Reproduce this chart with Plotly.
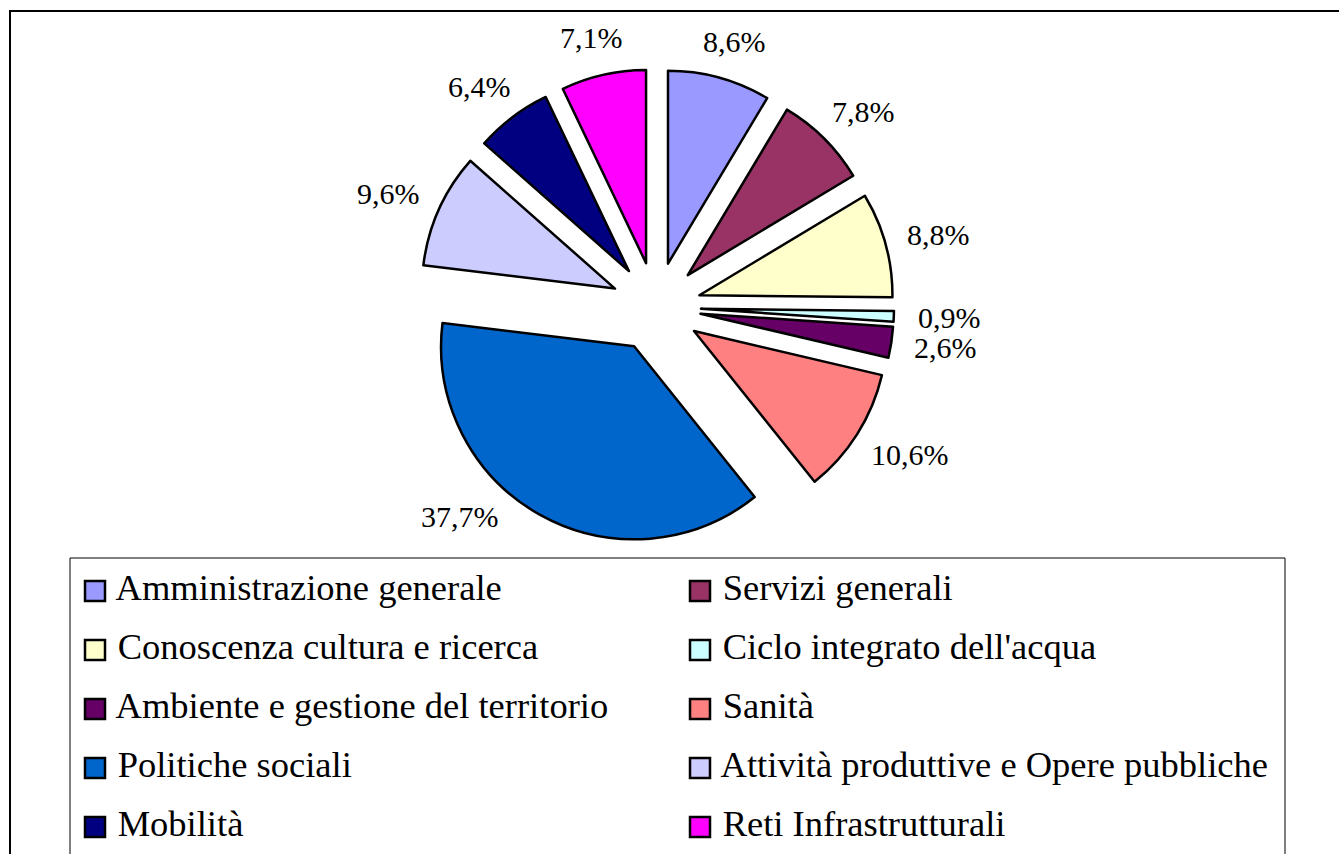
import math
import plotly.graph_objects as go

categories = [
    "Amministrazione generale",
    "Servizi generali",
    "Conoscenza cultura e ricerca",
    "Ciclo integrato dell'acqua",
    "Ambiente e gestione del territorio",
    "Sanità",
    "Politiche sociali",
    "Attività produttive e Opere pubbliche",
    "Mobilità",
    "Reti Infrastrutturali",
]
values = [8.6, 7.8, 8.8, 0.9, 2.6, 10.6, 37.7, 9.6, 6.4, 7.1]
colors = ["#9999FF", "#993366", "#FFFFCC", "#CCFFFF", "#660066",
          "#FF8080", "#0066CC", "#CCCCFF", "#000080", "#FF00FF"]

W, H = 1339, 854
FONT = "Liberation Serif, Times New Roman, serif"
LABEL_SIZE = 30
PULL = 0.233

labels_txt = [f"{v:.1f}".replace(".", ",") + "%" for v in values]

# pie box (pixels) -> paper domain
box_x = (418, 894)
box_y = (69, 545)

fig = go.Figure()

fig.add_trace(go.Pie(
    labels=categories,
    values=values,
    textinfo="none",
    marker=dict(colors=colors, line=dict(color="black", width=2.5)),
    sort=False,
    direction="clockwise",
    rotation=0,
    pull=PULL,
    showlegend=False,
    hoverinfo="label+percent",
    domain=dict(x=[box_x[0] / W, box_x[1] / W], y=[1 - box_y[1] / H, 1 - box_y[0] / H]),
))

# percentage labels placed outside each slice, at its mid angle
cx = (box_x[0] + box_x[1]) / 2
cy = (box_y[0] + box_y[1]) / 2
r = (box_x[1] - box_x[0]) / (2 * (1 + PULL))
D = r * (1 + PULL) + 24
bottom_limit = 531
total = sum(values)
char_w = {",": 0.25, "%": 0.833}
cum = 0.0
annotations = []
for v, t in zip(values, labels_txt):
    theta = math.radians(360 * (cum + v / 2) / total)
    cum += v
    w = sum(char_w.get(ch, 0.5) for ch in t) * LABEL_SIZE
    h = 0.93 * LABEL_SIZE

    def place(th):
        s, c = math.sin(th), math.cos(th)
        return cx + D * s + w / 2 * s, cy - D * c - h / 2 * c

    px, py = place(theta)
    step = math.radians(0.5) * (1 if math.sin(theta) < 0 else -1)
    while py + h / 2 > bottom_limit:
        theta += step
        px, py = place(theta)
    annotations.append(dict(
        x=px / W, y=1 - py / H, xref="paper", yref="paper",
        text=t, showarrow=False, xanchor="center", yanchor="middle",
        font=dict(family=FONT, size=LABEL_SIZE, color="black"),
    ))

# legend built as a 2-column grid of square markers with text
cols = [i % 2 for i in range(len(categories))]
rows = [i // 2 for i in range(len(categories))]
fig.add_trace(go.Scatter(
    x=cols, y=rows,
    mode="markers+text",
    text=[" " + c for c in categories],
    textposition="middle right",
    textfont=dict(family=FONT, size=36.5, color="black"),
    marker=dict(symbol="square", size=20, color=colors,
                line=dict(color="black", width=2.5)),
    showlegend=False,
    hoverinfo="text",
    cliponaxis=False,
    xaxis="x", yaxis="y",
))

col_px = 605.0
row_px = 59.0
x0 = -95.0 / col_px
y_top = -591.0 / row_px

fig.update_layout(
    width=W, height=H,
    showlegend=False,
    margin=dict(l=0, r=0, t=0, b=0, pad=0, autoexpand=False),
    paper_bgcolor="white", plot_bgcolor="rgba(0,0,0,0)",
    xaxis=dict(domain=[0, 1], range=[x0, x0 + W / col_px], visible=False, fixedrange=True),
    yaxis=dict(domain=[0, 1], range=[y_top + H / row_px, y_top], visible=False, fixedrange=True),
    annotations=annotations,
    shapes=[
        dict(type="rect", xref="paper", yref="paper",
             x0=10 / W, x1=1.02, y0=-0.02, y1=1 - 11 / H,
             line=dict(color="black", width=2), layer="below"),
        dict(type="rect", xref="paper", yref="paper",
             x0=70 / W, x1=1285 / W, y0=-0.02, y1=1 - 558 / H,
             line=dict(color="black", width=1), layer="below"),
    ],
)

fig.write_html(
    "out.html",
    config={"displayModeBar": False},
    post_script="document.body.style.margin='0';document.body.style.padding='0';",
)
